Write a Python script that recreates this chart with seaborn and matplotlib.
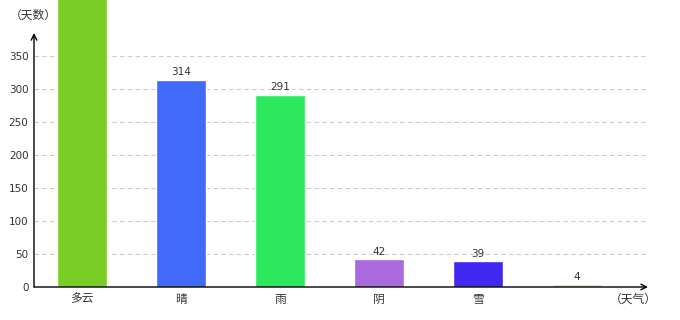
import matplotlib
matplotlib.use("Agg")
import matplotlib.pyplot as plt
import seaborn as sns
import pandas as pd

categories = ["多云", "晴", "雨", "阴", "雪", ""]
values = [490, 314, 291, 42, 39, 4]
colors = ["#78ce24", "#4169fa", "#2de85c", "#aa69dc", "#4128f0", "#c8f0a0"]
yticks = [0, 50, 100, 150, 200, 250, 300, 350]
y_title = "（天数）"
x_title = "（天气）"

sns.set_style("white")
plt.rcParams["font.family"] = ["DejaVu Sans", "Noto Sans CJK SC"]
cjk = ["Noto Sans CJK SC", "DejaVu Sans"]

W, H = 680, 320
fig = plt.figure(figsize=(W / 100, H / 100), dpi=100)
ax_left, ax_right, ax_bottom = 34, 648, 287
ax = fig.add_axes([ax_left / W, (H - ax_bottom) / H, (ax_right - ax_left) / W, ax_bottom / H])

df = pd.DataFrame({"cat": categories, "val": values})
sns.barplot(data=df, x="cat", y="val", hue="cat", palette=colors, width=0.5,
            legend=False, ax=ax, saturation=1, zorder=3)

px_per_unit = 0.66
ymax = ax_bottom / px_per_unit
ax.set_xlim(-0.485, -0.485 + (ax_right - ax_left) / 99)
ax.set_ylim(0, ymax)

for s in ["top", "right", "left", "bottom"]:
    ax.spines[s].set_visible(False)

# grid lines
for t in yticks[1:]:
    ax.axhline(t, xmin=0, xmax=0.995, color="#cccccc", lw=0.8, ls=(0, (4, 3)), zorder=1)

# axes with arrows
yarrow_top = (ax_bottom - 33) / px_per_unit
ax.annotate("", xy=(0, yarrow_top), xytext=(0, 0), xycoords=("axes fraction", "data"),
            textcoords=("axes fraction", "data"),
            arrowprops=dict(arrowstyle="->", lw=1.0, color="black", shrinkA=0, shrinkB=0),
            zorder=5, annotation_clip=False)
ax.annotate("", xy=(1.0, 0), xytext=(0, 0), xycoords="axes fraction",
            arrowprops=dict(arrowstyle="->", lw=1.0, color="black", shrinkA=0, shrinkB=0),
            zorder=5, annotation_clip=False)

ax.set_yticks(yticks)
ax.set_yticklabels([str(t) for t in yticks])
ax.tick_params(axis="y", length=0, pad=4, labelsize=7.5, labelcolor="#333333")
ax.tick_params(axis="x", length=0, pad=4, labelsize=8.5, labelcolor="#333333")
for lab in ax.get_xticklabels():
    lab.set_family(cjk)
ax.set_xlabel("")
ax.set_ylabel("")

# value labels
for i, v in enumerate(values):
    if v < ymax:
        ax.text(i, v + 4, str(v), ha="center", va="bottom", fontsize=7.5, color="#333333", zorder=4)

# axis titles
ax.text(-24 / (ax_right - ax_left), 1 - 15 / ax_bottom, y_title, transform=ax.transAxes,
        ha="left", va="center", fontsize=8.5, color="#333333", zorder=0, clip_on=False,
        family=cjk)
fig.text(633 / W, 1 - 299 / H, x_title, ha="center", va="center", fontsize=8.5,
         color="#333333", family=cjk)

fig.savefig("out.png", dpi=100)
